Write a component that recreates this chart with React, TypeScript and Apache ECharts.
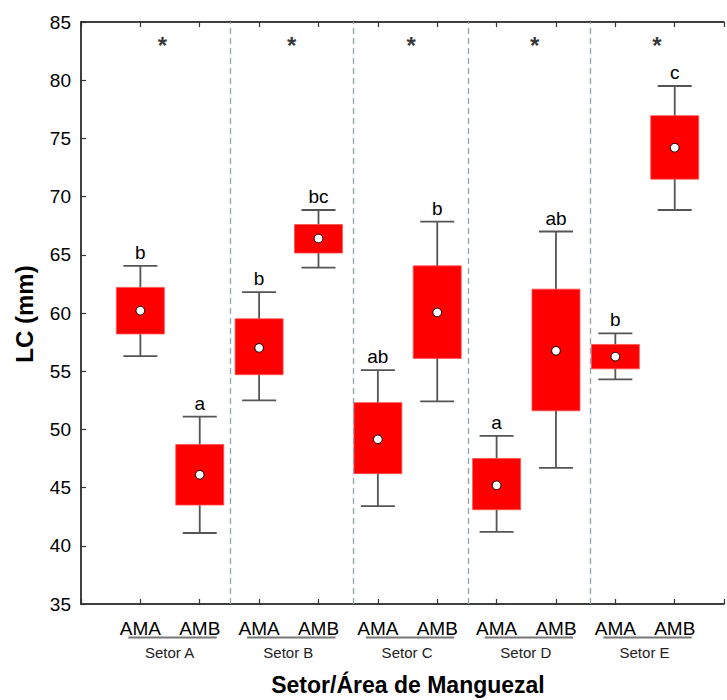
import React, { useEffect, useRef } from "react";
import * as echarts from "echarts";

const groups = ["AMA", "AMB"];
const sectors = ["Setor A", "Setor B", "Setor C", "Setor D", "Setor E"];
const positions = [1, 2, 3, 4, 5, 6, 7, 8, 9, 10];
const whiskerLow = [56.3, 41.1, 52.5, 63.9, 43.4, 52.4, 41.2, 46.7, 54.3, 68.85];
const boxLow = [58.2, 43.5, 54.7, 65.15, 46.2, 56.1, 43.1, 51.6, 55.2, 71.5];
const means = [60.2, 46.1, 57.0, 66.4, 49.15, 60.05, 45.2, 56.75, 56.25, 74.2];
const boxHigh = [62.2, 48.7, 59.5, 67.6, 52.3, 64.05, 47.5, 62.05, 57.3, 76.95];
const whiskerHigh = [64.05, 51.1, 61.8, 68.85, 55.1, 67.85, 49.45, 67.0, 58.25, 79.5];
const letters = ["b", "a", "b", "bc", "ab", "b", "a", "ab", "b", "c"];
const separators = [2.51, 4.58, 6.53, 8.57];
const asteriskX = [1.37, 3.55, 5.56, 7.64, 9.7];
const asteriskY = 83.45;
const yMin = 35;
const yMax = 85;
const yStep = 5;
const xMin = 0;
const xMax = 10.83;

const FONT = '"Liberation Sans", Arial, sans-serif';

export default function App() {
  const ref = useRef<HTMLDivElement>(null);
  useEffect(() => {
    if (!ref.current) return;
    const chart = echarts.init(ref.current, null, { renderer: "svg" });
    const data = positions.map((p, i) => [p, whiskerLow[i], boxLow[i], means[i], boxHigh[i], whiskerHigh[i]]);
    const axisCommon = {
      type: "value",
      min: xMin,
      max: xMax,
      interval: 1,
      splitLine: { show: false },
      axisLine: { show: true, lineStyle: { color: "#000", width: 1.5 } },
      axisTick: { show: true, inside: true, length: 5, lineStyle: { color: "#333", width: 1.2 } },
    };
    chart.setOption({
      animation: false,
      backgroundColor: "#fff",
      grid: { left: 81, right: 0, top: 22, bottom: 96, containLabel: false },
      xAxis: [
        {
          ...axisCommon,
          position: "bottom",
          axisLabel: {
            show: true,
            margin: 15,
            fontSize: 19,
            color: "#000",
            fontFamily: FONT,
            formatter: (v: number) => {
              const i = Math.round(v);
              if (Math.abs(v - i) > 1e-6 || i < 1 || i > positions.length) return "";
              return groups[(i - 1) % 2];
            },
          },
        },
        {
          ...axisCommon,
          position: "top",
          axisLabel: { show: false },
        },
      ],
      yAxis: {
        type: "value",
        min: yMin,
        max: yMax,
        interval: yStep,
        splitLine: { show: false },
        axisLine: { show: true, lineStyle: { color: "#000", width: 1.5 } },
        axisTick: { show: true, inside: true, length: 5, lineStyle: { color: "#333", width: 1.2 } },
        axisLabel: { margin: 10, fontSize: 19, color: "#000", fontFamily: FONT },
      },
      series: [
        {
          type: "scatter",
          xAxisIndex: 0,
          data: asteriskX.map((x) => [x, asteriskY]),
          symbolSize: 1,
          itemStyle: { color: "rgba(0,0,0,0)" },
          label: {
            show: true,
            position: "inside",
            formatter: "*",
            fontSize: 24,
            fontWeight: "bold",
            color: "#000",
            fontFamily: FONT,
            offset: [0, 5],
          },
          markLine: {
            silent: true,
            symbol: ["none", "none"],
            label: { show: false },
            lineStyle: { type: [6, 4], color: "#8fa3ab", width: 1.3 },
            data: separators.map((v) => ({ xAxis: v })),
          },
        },
        {
          type: "custom",
          xAxisIndex: 0,
          data,
          encode: { x: 0, y: [1, 2, 3, 4, 5] },
          renderItem: (params: any, api: any) => {
            const x = api.value(0);
            const pLow = api.coord([x, api.value(1)]);
            const pQ1 = api.coord([x, api.value(2)]);
            const pMean = api.coord([x, api.value(3)]);
            const pQ3 = api.coord([x, api.value(4)]);
            const pHigh = api.coord([x, api.value(5)]);
            const cx = pLow[0];
            const bw = 48;
            const cw = 34;
            const ws = { stroke: "#555", lineWidth: 1.8 };
            return {
              type: "group",
              children: [
                { type: "line", shape: { x1: cx, y1: pLow[1], x2: cx, y2: pHigh[1] }, style: ws },
                { type: "line", shape: { x1: cx - cw / 2, y1: pLow[1], x2: cx + cw / 2, y2: pLow[1] }, style: ws },
                { type: "line", shape: { x1: cx - cw / 2, y1: pHigh[1], x2: cx + cw / 2, y2: pHigh[1] }, style: ws },
                {
                  type: "rect",
                  shape: { x: cx - bw / 2, y: pQ3[1], width: bw, height: pQ1[1] - pQ3[1] },
                  style: { fill: "#ff0000", stroke: "#ff5050", lineWidth: 0.8 },
                },
                {
                  type: "circle",
                  shape: { cx, cy: pMean[1], r: 4.3 },
                  style: { fill: "#fff", stroke: "#000", lineWidth: 1 },
                },
                {
                  type: "text",
                  x: cx,
                  y: pHigh[1] - 4,
                  style: {
                    text: letters[params.dataIndex],
                    fill: "#000",
                    font: `19px ${FONT}`,
                    align: "center",
                    verticalAlign: "bottom",
                  },
                },
              ],
            };
          },
        },
      ],
    });

    const px = (v: number) => chart.convertToPixel({ xAxisIndex: 0 }, v) as number;
    const graphics: any[] = [
      {
        type: "text",
        x: 24,
        y: 314,
        rotation: Math.PI / 2,
        style: { text: "LC (mm)", font: `bold 24px ${FONT}`, fill: "#000", align: "center", verticalAlign: "middle" },
      },
      {
        type: "text",
        x: 408,
        y: 685,
        style: {
          text: "Setor/Área de Manguezal",
          font: `bold 23px ${FONT}`,
          fill: "#000",
          align: "center",
          verticalAlign: "middle",
        },
      },
    ];
    sectors.forEach((s, k) => {
      const a = px(positions[2 * k]);
      const b = px(positions[2 * k + 1]);
      const l = a - 12;
      const r = b + 17;
      graphics.push({
        type: "line",
        shape: { x1: l, y1: 637.5, x2: r, y2: 637.5 },
        style: { stroke: "#777", lineWidth: 2 },
      });
      graphics.push({
        type: "text",
        x: (l + r) / 2 - 3,
        y: 652,
        style: { text: s, font: `15px ${FONT}`, fill: "#222", align: "center", verticalAlign: "middle" },
      });
    });
    chart.setOption({ graphic: graphics });

    return () => chart.dispose();
  }, []);
  return <div ref={ref} style={{ position: "absolute", left: 0, top: 0, width: 727, height: 700 }} />;
}
